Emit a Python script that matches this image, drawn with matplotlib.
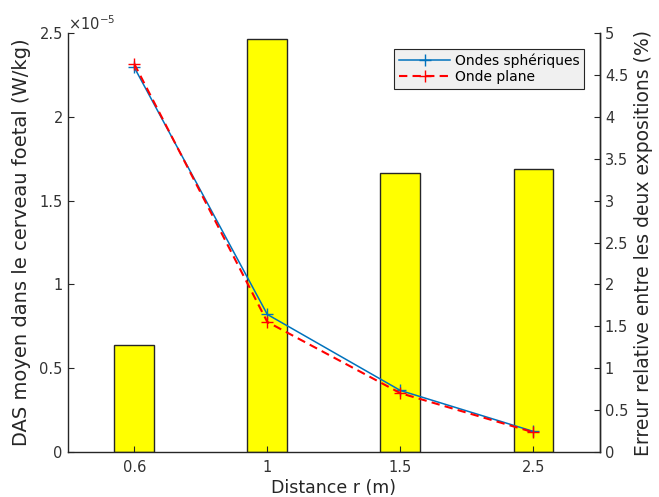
import matplotlib
matplotlib.use("Agg")
import matplotlib.pyplot as plt
from matplotlib.ticker import FuncFormatter, FixedLocator

plt.rcParams['font.family'] = ['DejaVu Sans']

distance_labels = ['0.6', '1', '1.5', '2.5']
das_spherical = [2.298e-5, 0.820e-5, 0.365e-5, 0.120e-5]
das_plane = [2.319e-5, 0.775e-5, 0.349e-5, 0.115e-5]
rel_error = [1.28, 4.94, 3.33, 3.38]

pos = list(range(1, len(distance_labels) + 1))
dark = '#262626'
tickc = '#333333'

fig = plt.figure(figsize=(6.59, 4.97), dpi=100)
ax = fig.add_axes([0.1027, 0.0915, 0.8078, 0.8411])
ax2 = ax.twinx()

ax2.bar(pos, rel_error, width=0.3, color='#ffff00', edgecolor=dark, linewidth=1.0)
ax.plot(pos, das_spherical, color='#0072BD', lw=1.1, marker='+', ms=8, mew=1.0,
        label='Ondes sphériques')
ax.plot(pos, das_plane, color='#ff0000', lw=1.5, ls=(0, (4, 2.5)), marker='+', ms=9, mew=1.0,
        label='Onde plane')

ax.set_zorder(ax2.get_zorder() + 1)
ax.patch.set_visible(False)

ax.set_xlim(0.5, 4.5)
ax.set_ylim(0, 2.5e-5)
ax2.set_ylim(0, 5)
ax.set_xticks(pos)
ax.set_xticklabels(distance_labels)
ax.yaxis.set_major_locator(FixedLocator([i * 0.5e-5 for i in range(6)]))
ax.yaxis.set_major_formatter(FuncFormatter(lambda v, p: '%g' % round(v / 1e-5, 3)))
ax2.yaxis.set_major_locator(FixedLocator([i * 0.5 for i in range(11)]))
ax2.yaxis.set_major_formatter(FuncFormatter(lambda v, p: '%g' % v))

for a in (ax, ax2):
    a.spines['top'].set_visible(False)
    for s in a.spines.values():
        s.set_color(dark)
        s.set_linewidth(1.0)
    a.tick_params(direction='in', length=4, width=0.8, color=dark, labelcolor=tickc,
                  labelsize=10.5)
ax.tick_params(axis='x', pad=6)
ax2.spines['left'].set_visible(False)
ax2.spines['bottom'].set_visible(False)

ax.text(0.0, 1.0, r'$\times10^{-5}$', transform=ax.transAxes, ha='left', va='bottom',
        fontsize=10.5, color=tickc)

ax.set_xlabel('Distance r (m)', fontsize=12.5, color=dark, labelpad=3)
ax.set_ylabel('DAS moyen dans le cerveau foetal (W/kg)', fontsize=14, color=dark, labelpad=6)
ax2.set_ylabel('Erreur relative entre les deux expositions (%)', fontsize=13.5, color=dark,
               labelpad=4)

leg = ax.legend(loc='upper right', bbox_to_anchor=(0.970, 0.963), fontsize=10,
                frameon=True, fancybox=False, edgecolor=dark, facecolor='#f0f0f0',
                framealpha=1, handlelength=3.7, borderpad=0.35, labelspacing=0.1,
                handletextpad=0.3, borderaxespad=0)
leg.get_frame().set_linewidth(0.8)

fig.savefig('out.png', dpi=100)
